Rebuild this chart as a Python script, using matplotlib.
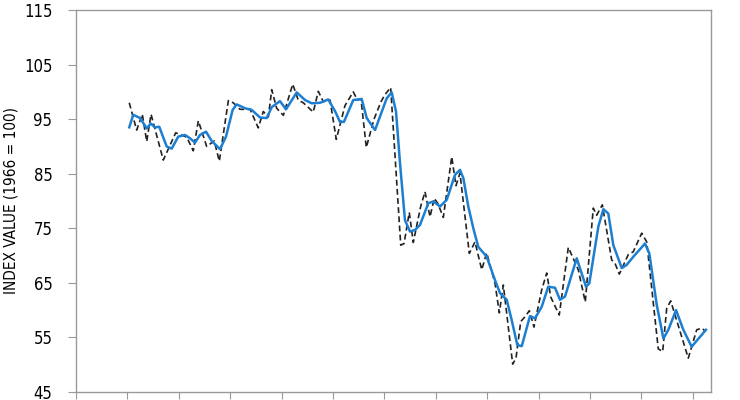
"""Index value (1966 = 100): raw series (dashed) and smoothed trend (blue)."""

import matplotlib
matplotlib.use("Agg")
import matplotlib.pyplot as plt
from matplotlib import font_manager

# raw series, vertices (year, index value)
raw_year = [1965.18, 1965.90, 1966.45, 1966.88, 1967.30, 1968.49, 1969.70, 1970.77,
            1971.41, 1971.90, 1972.71, 1973.45, 1973.94, 1974.82, 1975.30, 1975.95,
            1976.93, 1977.73, 1978.22, 1978.71, 1979.04, 1979.52, 1980.17, 1981.08,
            1981.62, 1982.11, 1983.08, 1983.57, 1984.06, 1984.71, 1985.32, 1986.17,
            1986.97, 1987.38, 1987.72, 1988.24, 1988.99, 1989.67, 1990.06, 1990.61,
            1991.59, 1991.91, 1992.42, 1992.81, 1993.53, 1993.95, 1994.44, 1994.85,
            1995.21, 1995.73, 1996.55, 1996.96, 1997.35, 1998.26, 1998.81, 1999.47,
            1999.95, 2000.76, 2001.18, 2001.57, 2002.48, 2002.80, 2003.26, 2003.68,
            2004.10, 2004.55, 2005.30, 2005.79, 2006.18, 2007.01, 2007.89, 2008.86,
            2009.54, 2010.32, 2010.65, 2011.20, 2012.11, 2012.43, 2012.85, 2013.73,
            2014.21, 2015.03, 2015.52, 2016.64, 2017.07, 2017.46, 2017.85, 2019.56,
            2020.38, 2020.87, 2021.19]
raw_value = [98.0, 93.0, 95.9, 90.9, 95.9, 87.5, 92.5, 91.7,
             89.2, 94.7, 90.0, 91.0, 87.3, 98.4, 98.0, 96.8,
             96.8, 93.4, 96.4, 95.4, 100.4, 97.0, 95.7, 101.4,
             98.5, 98.0, 96.3, 100.1, 98.2, 98.5, 91.3, 97.5,
             100.0, 98.5, 98.7, 89.8, 95.0, 98.2, 99.5, 100.8,
             71.9, 72.2, 77.9, 72.4, 79.0, 81.7, 77.1, 80.5,
             79.5, 77.0, 88.1, 82.8, 85.1, 70.4, 72.5, 67.4,
             70.5, 64.9, 59.5, 64.6, 50.1, 51.2, 57.9, 58.8,
             59.9, 56.9, 63.7, 66.8, 62.4, 59.1, 71.5, 67.4,
             61.5, 78.7, 77.4, 79.3, 69.2, 68.6, 66.6, 70.2,
             70.7, 74.1, 72.5, 52.9, 52.4, 60.3, 61.7, 51.2,
             56.4, 56.7, 56.2]

# smoothed trend, vertices
trend_year = [1965.18, 1965.57, 1966.23, 1966.88, 1967.27, 1967.68, 1968.10, 1968.82,
              1969.31, 1969.95, 1970.60, 1971.09, 1971.58, 1972.06, 1972.65, 1973.20,
              1974.01, 1974.59, 1975.24, 1975.63, 1976.44, 1977.09, 1977.90, 1978.55,
              1979.04, 1979.84, 1980.43, 1981.47, 1982.28, 1982.93, 1983.74, 1984.54,
              1985.19, 1985.68, 1986.07, 1986.97, 1987.79, 1988.28, 1989.09, 1990.22,
              1990.71, 1991.13, 1991.52, 1992.00, 1992.49, 1992.98, 1993.46, 1994.27,
              1994.76, 1995.41, 1996.06, 1996.87, 1997.35, 1997.68, 1998.16, 1998.65,
              1999.13, 1999.95, 2000.76, 2001.25, 2001.90, 2002.38, 2002.93, 2003.36,
              2004.16, 2004.65, 2005.30, 2005.94, 2006.60, 2007.08, 2007.57, 2008.71,
              2009.61, 2009.93, 2010.81, 2011.30, 2011.78, 2012.27, 2013.09, 2013.57,
              2014.22, 2015.35, 2015.77, 2016.49, 2017.14, 2017.62, 2018.37, 2019.08,
              2019.89, 2020.70, 2021.28]
trend_value = [93.5, 95.8, 95.2, 93.3, 94.2, 93.5, 93.6, 90.0,
               89.6, 91.8, 92.1, 91.5, 90.7, 92.1, 92.7, 91.0,
               89.5, 91.8, 96.7, 97.7, 97.0, 96.7, 95.3, 95.2,
               97.2, 98.3, 96.8, 99.9, 98.5, 97.9, 98.0, 98.6,
               96.5, 94.5, 94.5, 98.5, 98.7, 95.2, 93.0, 98.8,
               99.9, 96.4, 86.9, 76.5, 74.4, 74.7, 75.6, 79.6,
               79.9, 79.0, 80.2, 84.8, 85.7, 84.2, 79.0, 75.0,
               71.6, 69.8, 65.5, 63.1, 61.9, 58.2, 53.6, 53.4,
               58.9, 58.5, 60.6, 64.3, 64.1, 61.9, 62.5, 69.5,
               64.3, 64.9, 75.3, 78.5, 77.7, 71.9, 67.7, 68.3,
               69.8, 72.2, 70.4, 61.0, 54.8, 56.4, 60.0, 56.4,
               53.3, 55.1, 56.4]

x_ticks = list(range(1960, 2021, 5))
y_ticks = [45, 55, 65, 75, 85, 95, 105, 115]

# narrow face if the system has one, else plain DejaVu at a smaller size
condensed = any("Condensed" in f.fname or "Narrow" in f.fname
                for f in font_manager.fontManager.ttflist)
plt.rcParams["font.family"] = ["DejaVu Sans"]
if condensed:
    plt.rcParams["font.stretch"] = "condensed"
label_size = 11 if condensed else 9.9
tick_size = 12 if condensed else 11

fig = plt.figure(figsize=(7.4, 4.0), dpi=100)
ax = fig.add_axes([0.1027, 0.02, 0.8581, 0.955])

ax.plot(raw_year, raw_value, color="#222222", lw=1.2, ls=(0, (3.5, 2)))
ax.plot(trend_year, trend_value, color="#1c7fd2", lw=1.8, solid_joinstyle="round")

ax.set_xlim(1960, 2021.77)
ax.set_ylim(45, 115)
ax.set_xticks(x_ticks)
ax.set_xticklabels([])
ax.set_yticks(y_ticks)
ax.tick_params(axis="y", length=6, color="#999999", pad=11, labelsize=tick_size)
ax.tick_params(axis="x", length=5, color="#999999")
for sp in ax.spines.values():
    sp.set_color("#999999")
    sp.set_linewidth(1.0)
ax.set_ylabel("INDEX VALUE (1966 = 100)", fontsize=label_size, labelpad=4)

fig.savefig("out.png", dpi=100)
